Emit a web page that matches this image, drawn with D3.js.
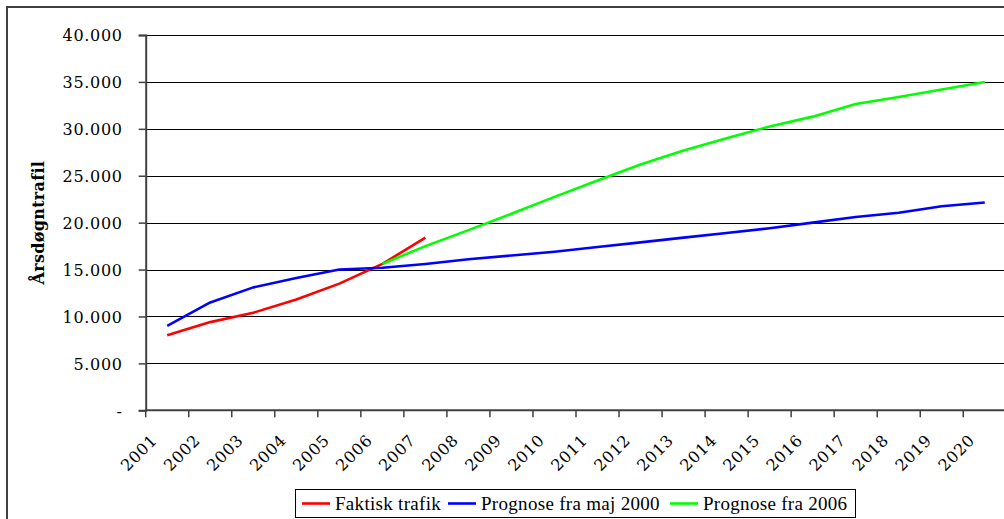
<!DOCTYPE html>
<html>
<head>
<meta charset="utf-8">
<script src="https://cdn.jsdelivr.net/npm/d3@7"></script>
<style>
  html, body { margin: 0; padding: 0; background: #fff; }
  svg { display: block; }
  text { font-family: "DejaVu Serif", "Liberation Serif", serif; fill: #000; }
</style>
</head>
<body>
<svg id="chart" width="1004" height="519"></svg>
<script>
// Årsdøgntrafik: faktisk trafik og prognoser
const years = ["2001","2002","2003","2004","2005","2006","2007","2008","2009","2010",
               "2011","2012","2013","2014","2015","2016","2017","2018","2019","2020"];

const faktiskYears = ["2001","2002","2003","2004","2005","2006","2007"];
const faktiskValues = [8000, 9400, 10400, 11800, 13500, 15600, 18400];

const prognose2000Years = years;
const prognose2000Values = [9000, 11500, 13100, 14100, 15000, 15200, 15600, 16100, 16500, 16900,
                            17400, 17900, 18400, 18900, 19400, 20000, 20600, 21050, 21750, 22150];

const prognose2006Years = ["2006","2007","2008","2009","2010","2011","2012","2013",
                           "2014","2015","2016","2017","2018","2019","2020"];
const prognose2006Values = [15600, 17500, 19200, 20950, 22750, 24500, 26200, 27700,
                            29000, 30250, 31300, 32650, 33400, 34200, 35000];

const yTicks = [0, 5000, 10000, 15000, 20000, 25000, 30000, 35000, 40000];

const seriesNames = ["Faktisk trafik", "Prognose fra maj 2000", "Prognose fra 2006"];
const seriesColors = ["#ff0000", "#0000ff", "#00ff00"];
const yTitle = "Årsdøgntrafil";

const series = [
  { name: seriesNames[0], color: seriesColors[0], years: faktiskYears, values: faktiskValues },
  { name: seriesNames[1], color: seriesColors[1], years: prognose2000Years, values: prognose2000Values },
  { name: seriesNames[2], color: seriesColors[2], years: prognose2006Years, values: prognose2006Values }
];

const svg = d3.select("#chart");

const plot = { left: 145.7, top: 35, right: 1006.3, bottom: 410.3 };

const x = d3.scaleBand().domain(years).range([plot.left, plot.right]).paddingInner(0).paddingOuter(0);
const y = d3.scaleLinear().domain([0, 40000]).range([plot.bottom, plot.top]);
const cx = d => x(d) + x.bandwidth() / 2;

const locale = d3.formatLocale({ decimal: ",", thousands: ".", grouping: [3], currency: ["", ""] });
const fmt = v => v === 0 ? "-" : locale.format(",")(v);

// outer chart frame
svg.append("rect")
  .attr("x", 7).attr("y", 7).attr("width", 1010).attr("height", 530)
  .attr("fill", "none").attr("stroke", "#404040").attr("stroke-width", 2);

// horizontal gridlines
svg.append("g")
  .selectAll("line")
  .data(yTicks.filter(v => v > 0))
  .join("line")
  .attr("x1", plot.left).attr("x2", plot.right)
  .attr("y1", d => Math.round(y(d)) + 0.5).attr("y2", d => Math.round(y(d)) + 0.5)
  .attr("stroke", "#000").attr("stroke-width", 1.2);

// y axis
const yAxis = svg.append("g")
  .attr("transform", `translate(${plot.left},0)`)
  .call(d3.axisLeft(y).tickValues(yTicks).tickFormat(fmt).tickSize(7).tickPadding(16));
yAxis.select(".domain").attr("stroke", "#404040").attr("stroke-width", 2);
yAxis.selectAll(".tick line").attr("stroke", "#404040").attr("stroke-width", 1.5);
yAxis.selectAll(".tick text")
  .style("font-family", "'DejaVu Serif', serif")
  .style("font-size", "16px")
  .style("letter-spacing", "0.7px")
  .attr("dy", "0.36em");

// x axis line and tick marks on category boundaries
const xAxis = svg.append("g").attr("transform", `translate(0,${plot.bottom})`);
xAxis.append("line")
  .attr("x1", plot.left).attr("x2", plot.right)
  .attr("stroke", "#404040").attr("stroke-width", 2);
xAxis.selectAll("line.tick")
  .data(years)
  .join("line")
  .attr("class", "tick")
  .attr("x1", d => x(d)).attr("x2", d => x(d))
  .attr("y1", 0).attr("y2", 7)
  .attr("stroke", "#404040").attr("stroke-width", 1.5);

// rotated category labels
svg.append("g")
  .selectAll("text")
  .data(years)
  .join("text")
  .attr("transform", d => `translate(${cx(d) - 9},${plot.bottom + 31}) rotate(-45)`)
  .attr("text-anchor", "end")
  .style("font-size", "16px")
  .style("letter-spacing", "0.7px")
  .text(d => d);

// y axis title
svg.append("text")
  .attr("transform", `translate(44,${(plot.top + plot.bottom) / 2}) rotate(-90)`)
  .attr("text-anchor", "middle")
  .style("font-size", "16px")
  .style("letter-spacing", "0.3px")
  .style("font-weight", "bold")
  .text(yTitle);

// series lines
const line = d3.line().x(d => cx(d.year)).y(d => y(d.value));
svg.append("g")
  .selectAll("path")
  .data(series)
  .join("path")
  .attr("d", s => line(s.years.map((yr, i) => ({ year: yr, value: s.values[i] }))))
  .attr("fill", "none")
  .attr("stroke", s => s.color)
  .attr("stroke-width", 2.6)
  .attr("stroke-linejoin", "round");

// legend
const legend = svg.append("g");
legend.append("rect")
  .attr("x", 295.5).attr("y", 489.5).attr("width", 560).attr("height", 28)
  .attr("fill", "#fff").attr("stroke", "#000").attr("stroke-width", 1);
const legendX = [302, 448, 670];
const items = legend.selectAll("g.item")
  .data(series)
  .join("g")
  .attr("class", "item")
  .attr("transform", (s, i) => `translate(${legendX[i]},503.5)`);
items.append("line")
  .attr("x1", 0).attr("x2", 28)
  .attr("stroke", s => s.color).attr("stroke-width", 2.6);
items.append("text")
  .attr("x", 33).attr("dy", "0.35em")
  .style("font-family", "'Liberation Serif', serif")
  .style("font-size", "19px")
  .style("letter-spacing", "0.3px")
  .text(s => s.name);
</script>
</body>
</html>
